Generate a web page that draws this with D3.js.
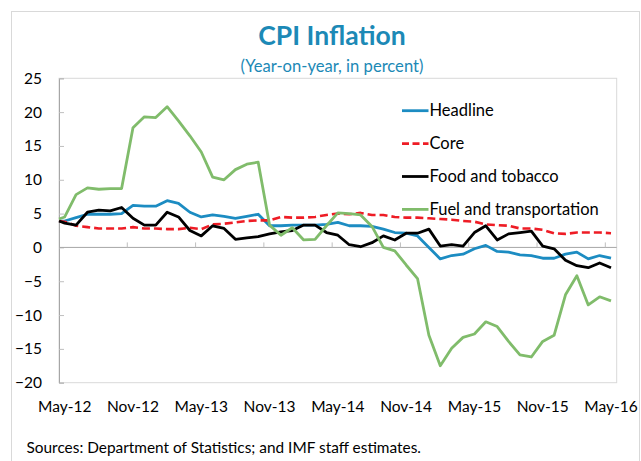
<!DOCTYPE html>
<html>
<head>
<meta charset="utf-8">
<script src="https://cdn.jsdelivr.net/npm/d3@7"></script>
<style>
  body { margin: 0; background: #fff; }
  text { font-family: Lato, "Open Sans", sans-serif; fill: #000; }
</style>
</head>
<body>
<div id="chart"></div>
<script>
// months May-12 .. May-16
const months = [];
["12", "13", "14", "15", "16"].forEach(yy => {
    ["Jan", "Feb", "Mar", "Apr", "May", "Jun", "Jul", "Aug", "Sep", "Oct", "Nov", "Dec"]
        .forEach(m => months.push(m + "-" + yy));
});
months.splice(0, 4);          // start at May-12
months.splice(49);            // end at May-16

const tickLabels = ["May-12", "Nov-12", "May-13", "Nov-13", "May-14", "Nov-14", "May-15", "Nov-15", "May-16"];
const yTicks = [-20, -15, -10, -5, 0, 5, 10, 15, 20, 25];

const seriesNames = ["Headline", "Core", "Food and tobacco", "Fuel and transportation"];
// value where each line leaves the y axis
const leadIn = [3.9, 3.9, 3.9, 4.2];

const headline = [3.9, 4.4, 4.9, 4.9, 4.9, 5.0, 6.2, 6.1, 6.1, 6.9, 6.5, 5.2, 4.5, 4.8, 4.6, 4.3, 4.6,
    4.9, 3.2, 3.2, 3.3, 3.3, 3.3, 3.4, 3.7, 3.2, 3.2, 3.1, 2.7, 2.2, 2.1, 1.7, 0.0, -1.7, -1.2, -1.0,
    -0.2, 0.3, -0.6, -0.7, -1.1, -1.2, -1.6, -1.6, -1.0, -0.7, -1.7, -1.2, -1.6];
const core = [3.8, 3.2, 3.0, 2.8, 2.8, 2.8, 3.0, 2.8, 2.8, 2.7, 2.7, 2.9, 2.7, 3.4, 3.5, 3.7, 3.9,
    4.0, 4.0, 4.5, 4.4, 4.4, 4.5, 4.8, 5.0, 4.9, 5.1, 4.8, 4.8, 4.5, 4.4, 4.4, 4.3, 4.2, 4.1, 3.9,
    3.8, 3.4, 3.3, 3.2, 2.8, 2.8, 2.6, 2.1, 2.0, 2.2, 2.2, 2.2, 2.1];
const food = [3.6, 3.3, 5.2, 5.5, 5.4, 5.9, 4.3, 3.3, 3.3, 5.2, 4.5, 2.5, 1.7, 3.2, 2.8, 1.2, 1.4,
    1.6, 2.0, 2.3, 2.5, 3.3, 3.3, 2.2, 1.8, 0.4, 0.1, 0.7, 1.7, 1.1, 2.1, 2.1, 2.7, 0.2, 0.4, 0.2,
    2.2, 3.2, 1.1, 2.0, 2.2, 2.4, 0.2, -0.2, -1.9, -2.7, -3.0, -2.3, -3.0];
const fuel = [4.5, 7.8, 8.8, 8.6, 8.7, 8.7, 17.7, 19.3, 19.2, 20.8, 18.7, 16.5, 14.1, 10.4, 10.0, 11.5,
    12.3, 12.6, 3.3, 1.8, 2.9, 1.1, 1.2, 3.2, 5.1, 5.0, 4.8, 3.1, 0.0, -0.5, -2.6, -4.6, -13.0, -17.5,
    -14.9, -13.3, -12.8, -11.0, -11.7, -13.9, -15.9, -16.2, -13.9, -13.0, -7.0, -4.2, -8.5, -7.3, -7.9];

const colors = ["#1c8cc2", "#ee1c25", "#000000", "#80bc6b"];
const dashes = [null, "8,4", null, null];

const width = 641, height = 461;
const plot = { left: 59, right: 616.7, top: 78.3, bottom: 382.7 };

const svg = d3.select("#chart").append("svg")
    .attr("width", width)
    .attr("height", height);

// outer frame
svg.append("rect")
    .attr("x", 11.5).attr("y", 11.5)
    .attr("width", 628).attr("height", 470)
    .attr("fill", "none").attr("stroke", "#d9d9d9");

const x = d3.scaleBand().domain(months).range([plot.left, plot.right]);
const y = d3.scaleLinear().domain([-20, 25]).range([plot.bottom, plot.top]);
const cx = m => x(m) + x.bandwidth() / 2;

// plot area border
svg.append("rect")
    .attr("x", plot.left).attr("y", plot.top)
    .attr("width", plot.right - plot.left).attr("height", plot.bottom - plot.top)
    .attr("fill", "none").attr("stroke", "#d9d9d9");

// y axis
const yAxis = svg.append("g")
    .attr("transform", `translate(${plot.left},0)`)
    .call(d3.axisLeft(y).tickValues(yTicks).tickSize(-5).tickPadding(17));
yAxis.select(".domain").attr("stroke", "#a6a6a6");
yAxis.selectAll(".tick line").attr("stroke", "#bfbfbf");
yAxis.selectAll("text").attr("font-size", 15.5).attr("font-family", "Lato").attr("fill", "#000");

// x axis: line at zero, ticks between categories, labels on categories
svg.append("line")
    .attr("x1", plot.left).attr("x2", plot.right)
    .attr("y1", y(0)).attr("y2", y(0))
    .attr("stroke", "#a6a6a6");

svg.selectAll(".xtick")
    .data(tickLabels.slice(1))
    .enter().append("line")
    .attr("class", "xtick")
    .attr("x1", d => x(d)).attr("x2", d => x(d))
    .attr("y1", y(0)).attr("y2", y(0) - 5)
    .attr("stroke", "#bfbfbf");

svg.selectAll(".xlabel")
    .data(tickLabels)
    .enter().append("text")
    .attr("class", "xlabel")
    .attr("x", d => cx(d))
    .attr("y", 412)
    .attr("text-anchor", "middle")
    .attr("font-size", 15.5)
    .text(d => d);

// lines
const allSeries = [headline, core, food, fuel];
const line = d3.line().x(d => d[0]).y(d => y(d[1]));

allSeries.forEach((vals, i) => {
    const pts = [[plot.left, leadIn[i]]].concat(vals.map((v, j) => [cx(months[j]), v]));
    svg.append("path")
        .datum(pts)
        .attr("fill", "none")
        .attr("stroke", colors[i])
        .attr("stroke-width", i === 1 ? 2.6 : 2.8)
        .attr("stroke-dasharray", dashes[i])
        .attr("stroke-linejoin", "round")
        .attr("d", line);
});

// legend
const legend = svg.append("g").attr("transform", "translate(402,0)");
seriesNames.forEach((name, i) => {
    const ly = 110.7 + i * 32.9;
    legend.append("line")
        .attr("x1", 0).attr("x2", 26.5)
        .attr("y1", ly).attr("y2", ly)
        .attr("stroke", colors[i])
        .attr("stroke-width", 2.8)
        .attr("stroke-dasharray", dashes[i] ? "7,3.5" : null);
    legend.append("text")
        .attr("x", 27.5).attr("y", ly)
        .attr("dy", "0.35em")
        .attr("font-size", 16.5)
        .text(name);
});

// titles
svg.append("text")
    .attr("x", 332).attr("y", 44.5)
    .attr("text-anchor", "middle")
    .attr("font-size", 26.5)
    .attr("font-weight", "bold")
    .style("fill", "#1c89b6")
    .text("CPI Inflation");

svg.append("text")
    .attr("x", 332).attr("y", 72)
    .attr("text-anchor", "middle")
    .attr("font-size", 16.6)
    .style("fill", "#1c89b6")
    .text("(Year-on-year, in percent)");

svg.append("text")
    .attr("x", 26.5).attr("y", 453)
    .attr("font-size", 15.4)
    .text("Sources: Department of Statistics; and IMF staff estimates.");
</script>
</body>
</html>
